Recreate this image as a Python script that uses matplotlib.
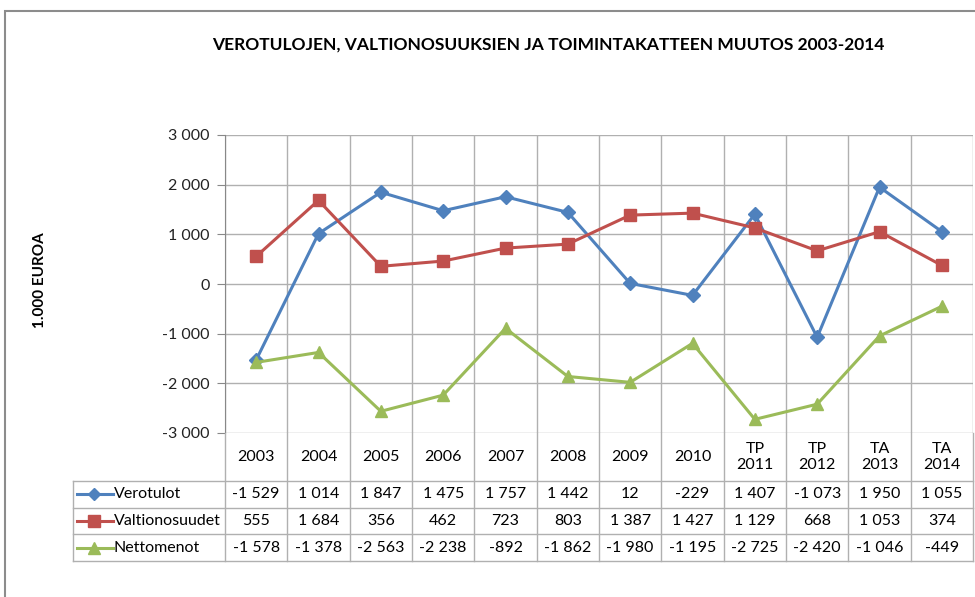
import matplotlib
matplotlib.use("Agg")
import matplotlib.pyplot as plt
from matplotlib.patches import Rectangle
from matplotlib.ticker import FuncFormatter

plt.rcParams['font.family'] = ['Lato', 'DejaVu Sans']

years = ["2003", "2004", "2005", "2006", "2007", "2008", "2009", "2010",
         "TP\n2011", "TP\n2012", "TA\n2013", "TA\n2014"]
verotulot = [-1529, 1014, 1847, 1475, 1757, 1442, 12, -229, 1407, -1073, 1950, 1055]
valtionosuudet = [555, 1684, 356, 462, 723, 803, 1387, 1427, 1129, 668, 1053, 374]
nettomenot = [-1578, -1378, -2563, -2238, -892, -1862, -1980, -1195, -2725, -2420, -1046, -449]

series = [
    ("Verotulot", verotulot, "#4F81BD", "D", 7),
    ("Valtionosuudet", valtionosuudet, "#C0504D", "s", 9),
    ("Nettomenot", nettomenot, "#9BBB59", "^", 9),
]

def fmt(v):
    return f"{v:,}".replace(",", " ")

W, H = 975, 597
fig = plt.figure(figsize=(W / 100, H / 100), dpi=100)

# outer chart frame
fig.patches.append(Rectangle((5 / W, -0.1), 1.2, 1 - 11 / H + 0.1, transform=fig.transFigure,
                             fill=False, edgecolor="#8c8c8c", lw=1.5))

left, right = 225 / W, 973 / W
top, bottom = 1 - 135 / H, 1 - 433 / H
ax = fig.add_axes([left, bottom, right - left, top - bottom])
x = list(range(len(years)))
for name, vals, col, mk, ms in series:
    ax.plot(x, vals, color=col, lw=2.2, marker=mk, markersize=ms, label=name)

ax.set_xlim(-0.5, len(years) - 0.5)
ax.set_ylim(-3000, 3000)
ax.set_yticks(range(-3000, 3001, 1000))
ax.yaxis.set_major_formatter(FuncFormatter(lambda v, p: fmt(int(v))))
ax.set_xticks([i - 0.5 for i in range(len(years) + 1)])
ax.set_xticklabels([])
ax.grid(True, color="#b0b0b0", lw=1)
ax.tick_params(axis="y", length=6, color="#888888", labelsize=11.5, labelcolor="#222222", pad=5)
ax.tick_params(axis="x", length=0)
for s in ["top", "right", "bottom"]:
    ax.spines[s].set_visible(False)
ax.spines["left"].set_color("#888888")

fig.text(548 / W, 1 - 45 / H, "VEROTULOJEN, VALTIONOSUUKSIEN JA TOIMINTAKATTEEN MUUTOS 2003-2014",
         ha="center", va="center", fontsize=12.5, fontweight="bold")
fig.text(40 / W, 1 - 280 / H, "1.000 EUROA", rotation=90, ha="center", va="center",
         fontsize=11, fontweight="bold")

# data table below the plot
tb_bottom = 1 - 561 / H
tax = fig.add_axes([left, tb_bottom, right - left, bottom - tb_bottom])
tax.set_xlim(-0.5, len(years) - 0.5)
tax.set_ylim(561, 433)
tax.axis("off")
gc = "#b0b0b0"
unit = (973 - 225) / len(years)
x_leg = -0.5 - (225 - 72.5) / unit
rows = [433, 481, 507.5, 534, 561]
for i in range(len(years) + 1):
    tax.plot([i - 0.5, i - 0.5], [433, 561], color=gc, lw=1, clip_on=False)
tax.plot([x_leg, x_leg], [481, 561], color=gc, lw=1, clip_on=False)
for r in rows[1:]:
    tax.plot([x_leg, len(years) - 0.5], [r, r], color=gc, lw=1, clip_on=False)

for i, lab in enumerate(years):
    tax.text(i, (rows[0] + rows[1]) / 2, lab, ha="center", va="center", fontsize=11.5, linespacing=1.2)
for k, (name, vals, col, mk, ms) in enumerate(series):
    yc = (rows[k + 1] + rows[k + 2]) / 2
    for i, v in enumerate(vals):
        tax.text(i, yc, fmt(v), ha="center", va="center", fontsize=11.5)
    x0 = x_leg + 4 / unit
    x1 = x_leg + 40 / unit
    tax.plot([x0, x1], [yc, yc], color=col, lw=2.2, clip_on=False)
    tax.plot([(x0 + x1) / 2], [yc], color=col, marker=mk, markersize=ms - 1, clip_on=False)
    tax.text(x1 + 1 / unit, yc, name, ha="left", va="center", fontsize=11.5)

fig.savefig("out.png", dpi=100)
